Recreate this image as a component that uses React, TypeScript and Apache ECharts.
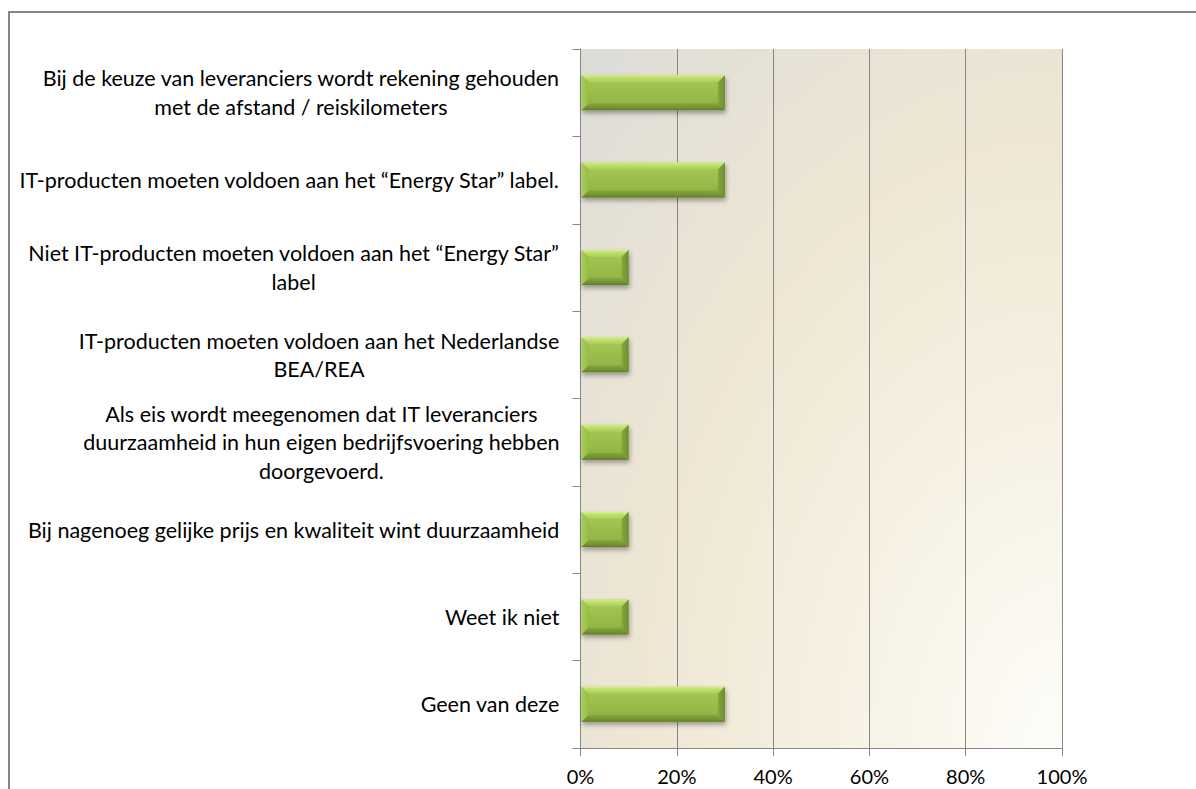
import React, { useEffect, useRef } from "react";
import * as echarts from "echarts";

const categories: string[] = [
  "Bij de keuze van leveranciers wordt rekening gehouden\nmet de afstand / reiskilometers",
  "IT-producten moeten voldoen aan het “Energy Star” label.",
  "Niet IT-producten moeten voldoen aan het “Energy Star”\nlabel",
  "IT-producten moeten voldoen aan het Nederlandse\nBEA/REA",
  "Als eis wordt meegenomen dat IT leveranciers\nduurzaamheid in hun eigen bedrijfsvoering hebben\ndoorgevoerd.",
  "Bij nagenoeg gelijke prijs en kwaliteit wint duurzaamheid",
  "Weet ik niet",
  "Geen van deze",
];

const values: number[] = [30, 30, 10, 10, 10, 10, 10, 30];

const FONT = "Lato";
const GRAY = "#868686";

export default function App() {
  const ref = useRef<HTMLDivElement>(null);

  useEffect(() => {
    if (!ref.current) return;
    const chart = echarts.init(ref.current, undefined, { renderer: "svg" });

    const lin = (stops: [number, string][], vertical = true) =>
      new echarts.graphic.LinearGradient(0, 0, vertical ? 0 : 1, vertical ? 1 : 0,
        stops.map(([offset, color]) => ({ offset, color })));

    const option: any = {
      animation: false,
      backgroundColor: "#ffffff",
      grid: {
        left: 580.5,
        top: 49,
        right: 134,
        bottom: 41,
        show: true,
        borderWidth: 0,
        backgroundColor: new echarts.graphic.RadialGradient(1, 1, 1.45, [
          { offset: 0, color: "#fefdf9" },
          { offset: 0.35, color: "#f5f0e1" },
          { offset: 0.6, color: "#efe7d4" },
          { offset: 0.85, color: "#e3e0d6" },
          { offset: 1, color: "#dadad7" },
        ]),
      },
      xAxis: {
        type: "value",
        min: 0,
        max: 100,
        interval: 20,
        axisLine: { show: true, lineStyle: { color: GRAY, width: 1 } },
        axisTick: { show: true, length: 8, lineStyle: { color: GRAY } },
        splitLine: { show: true, lineStyle: { color: GRAY, width: 1 } },
        axisLabel: {
          formatter: "{value}%",
          color: "#000",
          fontFamily: FONT,
          fontSize: 20,
          margin: 18,
        },
      },
      yAxis: {
        type: "category",
        inverse: true,
        data: categories,
        axisLine: { show: true, lineStyle: { color: GRAY, width: 1 } },
        axisTick: { show: true, length: 8, lineStyle: { color: GRAY } },
        splitLine: { show: false },
        axisLabel: {
          margin: 21,
          align: "right",
          formatter: (v: string) =>
            v.split("\n").map((l) => "{a|" + l + "}").join("\n"),
          rich: {
            a: {
              align: "center",
              color: "#000",
              fontFamily: FONT,
              fontSize: 21.5,
              lineHeight: 28.5,
            },
          },
        },
      },
      series: [
        {
          type: "custom",
          encode: { x: 0, y: 1 },
          data: values.map((v, i) => [v, i]),
          renderItem: (params: any, api: any) => {
            const v = api.value(0);
            const c = api.value(1);
            const s = api.coord([0, c]);
            const e = api.coord([v, c]);
            const h = api.size([0, 1])[1] * 0.4;
            const x0 = s[0] + 1;
            const x1 = e[0];
            const y0 = s[1] - h / 2;
            const y1 = s[1] + h / 2;
            const b = 7;
            return {
              type: "group",
              children: [
                {
                  type: "rect",
                  shape: { x: x0, y: y0, width: x1 - x0, height: h },
                  style: {
                    fill: lin([
                      [0, "#a6cb55"],
                      [1, "#8db041"],
                    ]),
                    shadowBlur: 5,
                    shadowOffsetX: 1,
                    shadowOffsetY: 3,
                    shadowColor: "rgba(0,0,0,0.35)",
                  },
                },
                {
                  type: "polygon",
                  shape: { points: [[x0, y0], [x1, y0], [x1 - b, y0 + b], [x0 + b, y0 + b]] },
                  style: {
                    fill: lin([
                      [0, "#d9f28e"],
                      [0.25, "#c3e374"],
                      [1, "#a8cd57"],
                    ]),
                  },
                },
                {
                  type: "polygon",
                  shape: { points: [[x0, y1], [x1, y1], [x1 - b, y1 - b], [x0 + b, y1 - b]] },
                  style: {
                    fill: lin([
                      [0, "#86a83d"],
                      [0.7, "#728f33"],
                      [1, "#5f7a2a"],
                    ]),
                  },
                },
                {
                  type: "polygon",
                  shape: { points: [[x0, y0], [x0 + b, y0 + b], [x0 + b, y1 - b], [x0, y1]] },
                  style: { fill: lin([[0, "#a9cf58"], [1, "#97bb48"]], false) },
                },
                {
                  type: "polygon",
                  shape: { points: [[x1, y0], [x1 - b, y0 + b], [x1 - b, y1 - b], [x1, y1]] },
                  style: { fill: lin([[0, "#86a63c"], [1, "#6f8d32"]], false) },
                },
              ],
            };
          },
        },
      ],
      graphic: [
        {
          type: "rect",
          shape: { x: 9, y: 12, width: 1400, height: 1000 },
          style: { fill: "none", stroke: GRAY, lineWidth: 2 },
          silent: true,
          z: 100,
        },
      ],
    };

    chart.setOption(option);
    return () => chart.dispose();
  }, []);

  return (
    <div
      ref={ref}
      style={{ position: "fixed", left: 0, top: 0, width: 1196, height: 789 }}
    />
  );
}
